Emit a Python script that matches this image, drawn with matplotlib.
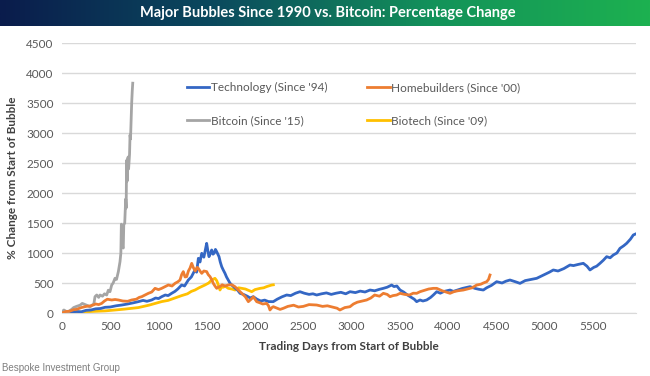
import numpy as np
import matplotlib
matplotlib.use("Agg")
import matplotlib.pyplot as plt
from matplotlib.colors import LinearSegmentedColormap
from matplotlib.lines import Line2D

plt.rcParams['font.family'] = ['Lato', 'DejaVu Sans']

# ---- data ----
tech_days = [0, 30, 60, 100, 150, 200, 250, 300, 350, 400, 446, 500, 560, 619, 680, 740, 791, 840, 880, 929,
             970, 1000, 1033, 1070, 1100, 1136, 1170, 1200, 1240, 1270, 1309, 1340, 1378, 1395, 1413, 1430, 1448,
             1470, 1485, 1499, 1510, 1523, 1540, 1551, 1565, 1578, 1590, 1603, 1615, 1627, 1640, 1655, 1670, 1689,
             1705, 1723, 1740, 1758, 1790, 1820, 1845, 1880, 1920, 1950, 1982, 2020, 2060, 2100, 2140, 2189, 2230,
             2280, 2328, 2370, 2420, 2466, 2510, 2560, 2600, 2639, 2690, 2740, 2790, 2840, 2890, 2940, 2985, 3040,
             3090, 3140, 3192, 3240, 3290, 3330, 3370, 3416, 3440, 3470, 3503, 3540, 3580, 3620, 3650, 3675, 3710,
             3740, 3779, 3820, 3848, 3883, 3920, 3960, 4021, 4055, 4100, 4150, 4228, 4280, 4320, 4366, 4400, 4450,
             4504, 4560, 4600, 4642, 4700, 4746, 4800, 4860, 4919, 4960, 5000, 5050, 5091, 5140, 5200, 5264, 5300,
             5350, 5402, 5440, 5471, 5510, 5540, 5575, 5610, 5644, 5680, 5713, 5750, 5782, 5820, 5851, 5890, 5920,
             5948]
tech_vals = [0, 15, -5, 10, 25, 20, 45, 50, 70, 75, 95, 100, 120, 133, 150, 170, 189, 210, 195, 217,
             250, 240, 272, 300, 290, 328, 360, 400, 467, 450, 550, 600, 717, 680, 911, 850, 995,
             930, 1050, 1161, 1050, 939, 1000, 1050, 980, 1000, 1060, 1022, 980, 939, 850, 772, 720, 661,
             600, 550, 500, 467, 420, 380, 328, 310, 280, 250, 272, 230, 200, 215, 190, 189, 230,
             270, 300, 290, 330, 355, 330, 310, 320, 300, 320, 335, 310, 330, 345, 320, 355, 340,
             365, 350, 383, 370, 395, 411, 430, 466, 440, 450, 383, 350, 300, 260, 230, 189, 217,
             200, 217, 260, 300, 355, 330, 360, 383, 360, 383, 410, 439, 410, 395, 383, 420, 460,
             522, 500, 530, 550, 520, 494, 540, 560, 578, 610, 640, 680, 717, 700, 740, 800, 790,
             810, 828, 780, 717, 760, 780, 828, 880, 939, 920, 967, 1000, 1078, 1120, 1161, 1230, 1300,
             1320]

home_days = [0, 40, 80, 120, 150, 200, 250, 300, 350, 380, 411, 440, 470, 515, 550, 584, 630, 680, 722, 770,
             800, 826, 860, 895, 930, 964, 1000, 1033, 1070, 1102, 1140, 1171, 1200, 1223, 1240, 1257, 1275,
             1292, 1310, 1327, 1344, 1360, 1380, 1400, 1413, 1430, 1448, 1470, 1499, 1515, 1534, 1550, 1568,
             1585, 1603, 1620, 1637, 1660, 1690, 1723, 1760, 1792, 1830, 1862, 1900, 1931, 1960, 1983, 2017,
             2050, 2080, 2121, 2140, 2155, 2175, 2190, 2230, 2260, 2293, 2340, 2400, 2450, 2500, 2560, 2639,
             2700, 2750, 2800, 2850, 2880, 2930, 2984, 3020, 3060, 3110, 3157, 3200, 3240, 3290, 3330, 3370,
             3399, 3430, 3468, 3503, 3550, 3600, 3640, 3675, 3710, 3760, 3800, 3848, 3883, 3940, 3980, 4021,
             4060, 4100, 4159, 4200, 4250, 4297, 4340, 4366, 4401, 4420, 4435]
home_vals = [0, 25, 30, 55, 60, 90, 110, 120, 150, 140, 160, 200, 230, 217, 225, 217, 200, 195, 217, 230,
             260, 272, 300, 328, 350, 411, 390, 411, 440, 467, 450, 494, 520, 550, 640, 690, 600,
             606, 700, 750, 828, 760, 700, 760, 744, 700, 661, 700, 690, 640, 606, 560, 494,
             450, 411, 430, 440, 470, 450, 467, 470, 439, 380, 328, 270, 189, 230, 270, 189,
             170, 150, 160, 120, 50, 90, 105, 80, 60, 78, 110, 130, 100, 110, 140, 133,
             110, 120, 100, 80, 50, 90, 105, 150, 180, 200, 217, 250, 300, 280, 328, 310,
             272, 290, 300, 328, 310, 300, 330, 328, 355, 380, 400, 411, 411, 370, 350, 328,
             355, 370, 383, 400, 420, 466, 480, 500, 522, 560, 633]

btc_days = [0, 20, 40, 60, 80, 100, 120, 150, 187, 210, 240, 270, 290, 310, 330, 342, 360, 380, 394, 420,
            440, 463, 480, 497, 515, 530, 549, 565, 584, 601, 610, 615, 620, 628, 635, 640, 650, 660, 665,
            668, 672, 676, 680, 685, 690, 700, 705, 710, 716, 722, 728, 733]
btc_vals = [20, 50, 30, 10, 40, 60, 90, 110, 130, 160, 140, 120, 100, 130, 150, 272, 300, 260, 300, 280,
            320, 300, 380, 355, 467, 500, 578, 560, 690, 855, 1000, 1480, 1400, 1100, 1083, 1470, 1500, 1900, 1750,
            2300, 2550, 2200, 2500, 2600, 2400, 2650, 2967, 2900, 3200, 3500, 3700, 3830]

bio_days = [0, 100, 200, 300, 446, 550, 650, 790, 900, 1033, 1100, 1170, 1240, 1300, 1340, 1378, 1420, 1482,
            1520, 1551, 1585, 1603, 1620, 1637, 1655, 1672, 1690, 1723, 1760, 1793, 1830, 1862, 1900, 1966,
            2000, 2050, 2090, 2121, 2150, 2173, 2190]
bio_vals = [0, 10, 15, 25, 35, 50, 65, 90, 130, 190, 210, 250, 290, 320, 360, 383, 420, 467,
            500, 550, 578, 540, 467, 383, 440, 430, 450, 411, 400, 383, 420, 411, 400, 355,
            390, 410, 420, 440, 455, 466, 470]

labels = ["Technology (Since '94)", "Homebuilders (Since '00)", "Bitcoin (Since '15)", "Biotech (Since '09)"]
colors = ["#3467c4", "#ed7d31", "#a5a5a5", "#ffc000"]
y_ticks = [0, 500, 1000, 1500, 2000, 2500, 3000, 3500, 4000, 4500]
x_ticks = [0, 500, 1000, 1500, 2000, 2500, 3000, 3500, 4000, 4500, 5000, 5500]

W, H = 650, 376
fig = plt.figure(figsize=(W / 100, H / 100), dpi=100)
fig.patch.set_facecolor("white")

# title banner
bax = fig.add_axes([0, 1 - 26 / H, 1, 26 / H])
cmap = LinearSegmentedColormap.from_list("band", ["#0a1c4c", "#0b4a5e", "#13925a", "#1db150"])
bax.imshow(np.linspace(0, 1, 256)[None, :], aspect="auto", cmap=cmap, extent=[0, 1, 0, 1])
bax.set_xlim(0, 1); bax.set_ylim(0, 1)
bax.axis("off")
bax.text(0.505, 0.5, "Major Bubbles Since 1990 vs. Bitcoin: Percentage Change", color="white",
         fontsize=10.5, fontweight="bold", ha="center", va="center")

# main axes
L, R, T, B = 62, 636, 43, 313
ax = fig.add_axes([L / W, 1 - B / H, (R - L) / W, (B - T) / H])
lw = 2.0
ax.plot(tech_days, tech_vals, color=colors[0], lw=lw, zorder=3)
ax.plot(home_days, home_vals, color=colors[1], lw=lw, zorder=4)
ax.plot(btc_days, btc_vals, color=colors[2], lw=lw, zorder=3)
ax.plot(bio_days, bio_vals, color=colors[3], lw=lw, zorder=2)

ax.set_xlim(0, 5948)
ax.set_ylim(0, 4500)
ax.set_yticks(y_ticks)
ax.set_xticks(x_ticks)
ax.grid(axis="y", color="#d9d9d9", lw=1)
ax.set_axisbelow(True)
for s in ["top", "right", "left"]:
    ax.spines[s].set_visible(False)
ax.spines["bottom"].set_color("#d9d9d9")
ax.tick_params(axis="both", length=0, labelsize=8.5, colors="#595959", pad=6)
ax.set_xlabel("Trading Days from Start of Bubble", fontsize=8.5, fontweight="bold", color="#404040", labelpad=6)
ax.set_ylabel("% Change from Start of Bubble", fontsize=8.5, fontweight="bold", color="#404040", labelpad=6)

handles = [Line2D([], [], color=colors[0], lw=lw), Line2D([], [], color=colors[2], lw=lw),
           Line2D([], [], color=colors[1], lw=lw), Line2D([], [], color=colors[3], lw=lw)]
hl = [labels[0], labels[2], labels[1], labels[3]]
leg = ax.legend(handles, hl, ncol=2, frameon=False, fontsize=8.5, handlelength=1.9, handletextpad=0.1,
                columnspacing=3.4, labelspacing=1.9, loc="upper left",
                bbox_to_anchor=((187 - L) / (R - L), 1 - (82 - T) / (B - T)), borderaxespad=0, borderpad=0)
for t in leg.get_texts():
    t.set_color("#595959")

fig.text(0.003, 1 - 368 / H, "Bespoke Investment Group", fontsize=7, color="#7f7f7f",
         ha="left", va="center", family=["Liberation Sans", "DejaVu Sans"])

fig.savefig("out.png", dpi=100)
